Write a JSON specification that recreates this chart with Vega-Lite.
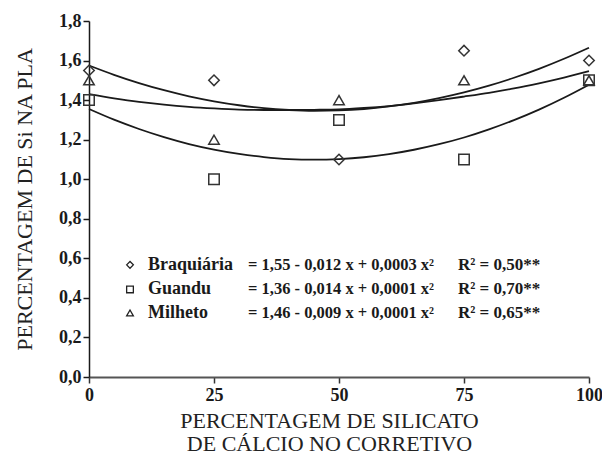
{
  "$schema": "https://vega.github.io/schema/vega-lite/v6.json",
  "width": 500,
  "height": 356,
  "autosize": {"type": "none"},
  "padding": {"left": 89, "top": 21, "right": 13, "bottom": 82},
  "background": "white",
  "config": {
    "view": {"stroke": null},
    "font": "Liberation Serif",
    "axis": {"grid": false, "labelOverlap": false}
  },
  "datasets": {
    "pts": [
      {"x": 0, "serie": "Braquiária", "v": 1.55},
      {"x": 25, "serie": "Braquiária", "v": 1.50},
      {"x": 50, "serie": "Braquiária", "v": 1.10},
      {"x": 75, "serie": "Braquiária", "v": 1.65},
      {"x": 100, "serie": "Braquiária", "v": 1.60},
      {"x": 0, "serie": "Guandu", "v": 1.40},
      {"x": 25, "serie": "Guandu", "v": 1.00},
      {"x": 50, "serie": "Guandu", "v": 1.30},
      {"x": 75, "serie": "Guandu", "v": 1.10},
      {"x": 100, "serie": "Guandu", "v": 1.50},
      {"x": 0, "serie": "Milheto", "v": 1.50},
      {"x": 25, "serie": "Milheto", "v": 1.20},
      {"x": 50, "serie": "Milheto", "v": 1.40},
      {"x": 75, "serie": "Milheto", "v": 1.50},
      {"x": 100, "serie": "Milheto", "v": 1.50}
    ],
    "curves": [
      {"x": 0, "curve": "Braquiária", "v": 1.575},
      {"x": 5, "curve": "Braquiária", "v": 1.528},
      {"x": 10, "curve": "Braquiária", "v": 1.486},
      {"x": 15, "curve": "Braquiária", "v": 1.450},
      {"x": 20, "curve": "Braquiária", "v": 1.419},
      {"x": 25, "curve": "Braquiária", "v": 1.394},
      {"x": 30, "curve": "Braquiária", "v": 1.374},
      {"x": 35, "curve": "Braquiária", "v": 1.359},
      {"x": 40, "curve": "Braquiária", "v": 1.350},
      {"x": 45, "curve": "Braquiária", "v": 1.346},
      {"x": 50, "curve": "Braquiária", "v": 1.348},
      {"x": 55, "curve": "Braquiária", "v": 1.355},
      {"x": 60, "curve": "Braquiária", "v": 1.368},
      {"x": 65, "curve": "Braquiária", "v": 1.386},
      {"x": 70, "curve": "Braquiária", "v": 1.410},
      {"x": 75, "curve": "Braquiária", "v": 1.439},
      {"x": 80, "curve": "Braquiária", "v": 1.473},
      {"x": 85, "curve": "Braquiária", "v": 1.513},
      {"x": 90, "curve": "Braquiária", "v": 1.558},
      {"x": 95, "curve": "Braquiária", "v": 1.609},
      {"x": 100, "curve": "Braquiária", "v": 1.665},
      {"x": 0, "curve": "Milheto", "v": 1.430},
      {"x": 5, "curve": "Milheto", "v": 1.409},
      {"x": 10, "curve": "Milheto", "v": 1.391},
      {"x": 15, "curve": "Milheto", "v": 1.377},
      {"x": 20, "curve": "Milheto", "v": 1.366},
      {"x": 25, "curve": "Milheto", "v": 1.358},
      {"x": 30, "curve": "Milheto", "v": 1.352},
      {"x": 35, "curve": "Milheto", "v": 1.350},
      {"x": 40, "curve": "Milheto", "v": 1.350},
      {"x": 45, "curve": "Milheto", "v": 1.351},
      {"x": 50, "curve": "Milheto", "v": 1.353},
      {"x": 55, "curve": "Milheto", "v": 1.360},
      {"x": 60, "curve": "Milheto", "v": 1.370},
      {"x": 65, "curve": "Milheto", "v": 1.384},
      {"x": 70, "curve": "Milheto", "v": 1.400},
      {"x": 75, "curve": "Milheto", "v": 1.418},
      {"x": 80, "curve": "Milheto", "v": 1.437},
      {"x": 85, "curve": "Milheto", "v": 1.459},
      {"x": 90, "curve": "Milheto", "v": 1.485},
      {"x": 95, "curve": "Milheto", "v": 1.514},
      {"x": 100, "curve": "Milheto", "v": 1.546},
      {"x": 0, "curve": "Guandu", "v": 1.355},
      {"x": 5, "curve": "Guandu", "v": 1.301},
      {"x": 10, "curve": "Guandu", "v": 1.254},
      {"x": 15, "curve": "Guandu", "v": 1.213},
      {"x": 20, "curve": "Guandu", "v": 1.178},
      {"x": 25, "curve": "Guandu", "v": 1.150},
      {"x": 30, "curve": "Guandu", "v": 1.128},
      {"x": 35, "curve": "Guandu", "v": 1.112},
      {"x": 40, "curve": "Guandu", "v": 1.102},
      {"x": 45, "curve": "Guandu", "v": 1.099},
      {"x": 50, "curve": "Guandu", "v": 1.102},
      {"x": 55, "curve": "Guandu", "v": 1.111},
      {"x": 60, "curve": "Guandu", "v": 1.127},
      {"x": 65, "curve": "Guandu", "v": 1.149},
      {"x": 70, "curve": "Guandu", "v": 1.177},
      {"x": 75, "curve": "Guandu", "v": 1.211},
      {"x": 80, "curve": "Guandu", "v": 1.252},
      {"x": 85, "curve": "Guandu", "v": 1.299},
      {"x": 90, "curve": "Guandu", "v": 1.352},
      {"x": 95, "curve": "Guandu", "v": 1.412},
      {"x": 100, "curve": "Guandu", "v": 1.478}
    ],
    "leg": [
      {"serie": "Braquiária", "eq": "= 1,55 - 0,012 x + 0,0003 x²", "r2": "R² = 0,50**"},
      {"serie": "Guandu", "eq": "= 1,36 - 0,014 x + 0,0001 x²", "r2": "R² = 0,70**"},
      {"serie": "Milheto", "eq": "= 1,46 - 0,009 x + 0,0001 x²", "r2": "R² = 0,65**"}
    ]
  },
  "layer": [
    {
      "encoding": {
        "x": {
          "field": "x", "type": "quantitative",
          "scale": {"domain": [0, 100], "nice": false, "zero": false},
          "axis": {
            "values": [0, 25, 50, 75, 100],
            "labelFont": "Liberation Serif", "labelFontWeight": "bold", "labelFontSize": 18,
            "labelColor": "#1a1a1a", "labelPadding": 3, "labelFlush": false, "labelOverlap": false,
            "tickSize": 6, "tickColor": "#333", "tickWidth": 1.5,
            "domainColor": "#555", "domainWidth": 2,
            "title": ["PERCENTAGEM DE SILICATO", "DE CÁLCIO NO CORRETIVO"],
            "titleFont": "Liberation Serif", "titleFontWeight": "normal", "titleFontSize": 22,
            "titleColor": "#222", "titleLineHeight": 23, "titlePadding": 6,
            "titleX": 240, "titleAlign": "center"
          }
        },
        "y": {
          "field": "v", "type": "quantitative",
          "scale": {"domain": [0, 1.8], "nice": false, "zero": true},
          "axis": {
            "values": [0, 0.2, 0.4, 0.6, 0.8, 1, 1.2, 1.4, 1.6, 1.8],
            "tickCount": 10,
            "labelExpr": "replace(format(datum.value, '.1f'), '.', ',')",
            "labelFont": "Liberation Serif", "labelFontWeight": "bold", "labelFontSize": 18,
            "labelColor": "#1a1a1a", "labelPadding": 2, "labelOverlap": false,
            "tickSize": 6, "tickColor": "#1a1a1a", "tickWidth": 1.5,
            "domainColor": "#1a1a1a", "domainWidth": 1.5,
            "title": "PERCENTAGEM DE Si NA PLA",
            "titleFont": "Liberation Serif", "titleFontWeight": "normal", "titleFontSize": 22,
            "titleColor": "#222", "titlePadding": 22
          }
        }
      },
      "layer": [
        {
          "data": {"name": "curves"},
          "mark": {"type": "line", "interpolate": "monotone", "color": "#1a1a1a", "strokeWidth": 1.8},
          "encoding": {"detail": {"field": "curve", "type": "nominal"}}
        },
        {
          "data": {"name": "pts"},
          "mark": {"type": "point", "filled": false, "size": 110, "strokeWidth": 1.5, "color": "#333", "opacity": 1},
          "encoding": {
            "shape": {
              "field": "serie", "type": "nominal",
              "scale": {"domain": ["Braquiária", "Guandu", "Milheto"], "range": ["diamond", "square", "triangle-up"]},
              "legend": null
            }
          }
        }
      ]
    },
    {"data": {"name": "leg"}, "transform": [{"filter": "datum.serie === 'Braquiária'"}],
     "mark": {"type": "point", "shape": "diamond", "size": 45, "filled": false, "strokeWidth": 1.3, "color": "#222", "opacity": 1},
     "encoding": {"x": {"datum": 8.2, "type": "quantitative"}, "y": {"datum": 0.567, "type": "quantitative"}}},
    {"data": {"name": "leg"}, "transform": [{"filter": "datum.serie === 'Guandu'"}],
     "mark": {"type": "point", "shape": "square", "size": 45, "filled": false, "strokeWidth": 1.3, "color": "#222", "opacity": 1},
     "encoding": {"x": {"datum": 8.2, "type": "quantitative"}, "y": {"datum": 0.443, "type": "quantitative"}}},
    {"data": {"name": "leg"}, "transform": [{"filter": "datum.serie === 'Milheto'"}],
     "mark": {"type": "point", "shape": "triangle-up", "size": 45, "filled": false, "strokeWidth": 1.3, "color": "#222", "opacity": 1},
     "encoding": {"x": {"datum": 8.2, "type": "quantitative"}, "y": {"datum": 0.324, "type": "quantitative"}}},
    {"data": {"name": "leg"}, "transform": [{"filter": "datum.serie === 'Braquiária'"}],
     "mark": {"type": "text", "align": "left", "baseline": "middle", "font": "Liberation Serif", "fontWeight": "bold", "fontSize": 18, "color": "#1a1a1a"},
     "encoding": {"x": {"datum": 11.8, "type": "quantitative"}, "y": {"datum": 0.567, "type": "quantitative"}, "text": {"field": "serie"}}},
    {"data": {"name": "leg"}, "transform": [{"filter": "datum.serie === 'Guandu'"}],
     "mark": {"type": "text", "align": "left", "baseline": "middle", "font": "Liberation Serif", "fontWeight": "bold", "fontSize": 18, "color": "#1a1a1a"},
     "encoding": {"x": {"datum": 11.8, "type": "quantitative"}, "y": {"datum": 0.443, "type": "quantitative"}, "text": {"field": "serie"}}},
    {"data": {"name": "leg"}, "transform": [{"filter": "datum.serie === 'Milheto'"}],
     "mark": {"type": "text", "align": "left", "baseline": "middle", "font": "Liberation Serif", "fontWeight": "bold", "fontSize": 18, "color": "#1a1a1a"},
     "encoding": {"x": {"datum": 11.8, "type": "quantitative"}, "y": {"datum": 0.324, "type": "quantitative"}, "text": {"field": "serie"}}},
    {"data": {"name": "leg"}, "transform": [{"filter": "datum.serie === 'Braquiária'"}],
     "mark": {"type": "text", "align": "left", "baseline": "middle", "font": "Liberation Serif", "fontWeight": "bold", "fontSize": 16.5, "color": "#1a1a1a"},
     "encoding": {"x": {"datum": 31.8, "type": "quantitative"}, "y": {"datum": 0.567, "type": "quantitative"}, "text": {"field": "eq"}}},
    {"data": {"name": "leg"}, "transform": [{"filter": "datum.serie === 'Guandu'"}],
     "mark": {"type": "text", "align": "left", "baseline": "middle", "font": "Liberation Serif", "fontWeight": "bold", "fontSize": 16.5, "color": "#1a1a1a"},
     "encoding": {"x": {"datum": 31.8, "type": "quantitative"}, "y": {"datum": 0.443, "type": "quantitative"}, "text": {"field": "eq"}}},
    {"data": {"name": "leg"}, "transform": [{"filter": "datum.serie === 'Milheto'"}],
     "mark": {"type": "text", "align": "left", "baseline": "middle", "font": "Liberation Serif", "fontWeight": "bold", "fontSize": 16.5, "color": "#1a1a1a"},
     "encoding": {"x": {"datum": 31.8, "type": "quantitative"}, "y": {"datum": 0.324, "type": "quantitative"}, "text": {"field": "eq"}}},
    {"data": {"name": "leg"}, "transform": [{"filter": "datum.serie === 'Braquiária'"}],
     "mark": {"type": "text", "align": "left", "baseline": "middle", "font": "Liberation Serif", "fontWeight": "bold", "fontSize": 17, "color": "#1a1a1a"},
     "encoding": {"x": {"datum": 73.8, "type": "quantitative"}, "y": {"datum": 0.567, "type": "quantitative"}, "text": {"field": "r2"}}},
    {"data": {"name": "leg"}, "transform": [{"filter": "datum.serie === 'Guandu'"}],
     "mark": {"type": "text", "align": "left", "baseline": "middle", "font": "Liberation Serif", "fontWeight": "bold", "fontSize": 17, "color": "#1a1a1a"},
     "encoding": {"x": {"datum": 73.8, "type": "quantitative"}, "y": {"datum": 0.443, "type": "quantitative"}, "text": {"field": "r2"}}},
    {"data": {"name": "leg"}, "transform": [{"filter": "datum.serie === 'Milheto'"}],
     "mark": {"type": "text", "align": "left", "baseline": "middle", "font": "Liberation Serif", "fontWeight": "bold", "fontSize": 17, "color": "#1a1a1a"},
     "encoding": {"x": {"datum": 73.8, "type": "quantitative"}, "y": {"datum": 0.324, "type": "quantitative"}, "text": {"field": "r2"}}}
  ]
}
